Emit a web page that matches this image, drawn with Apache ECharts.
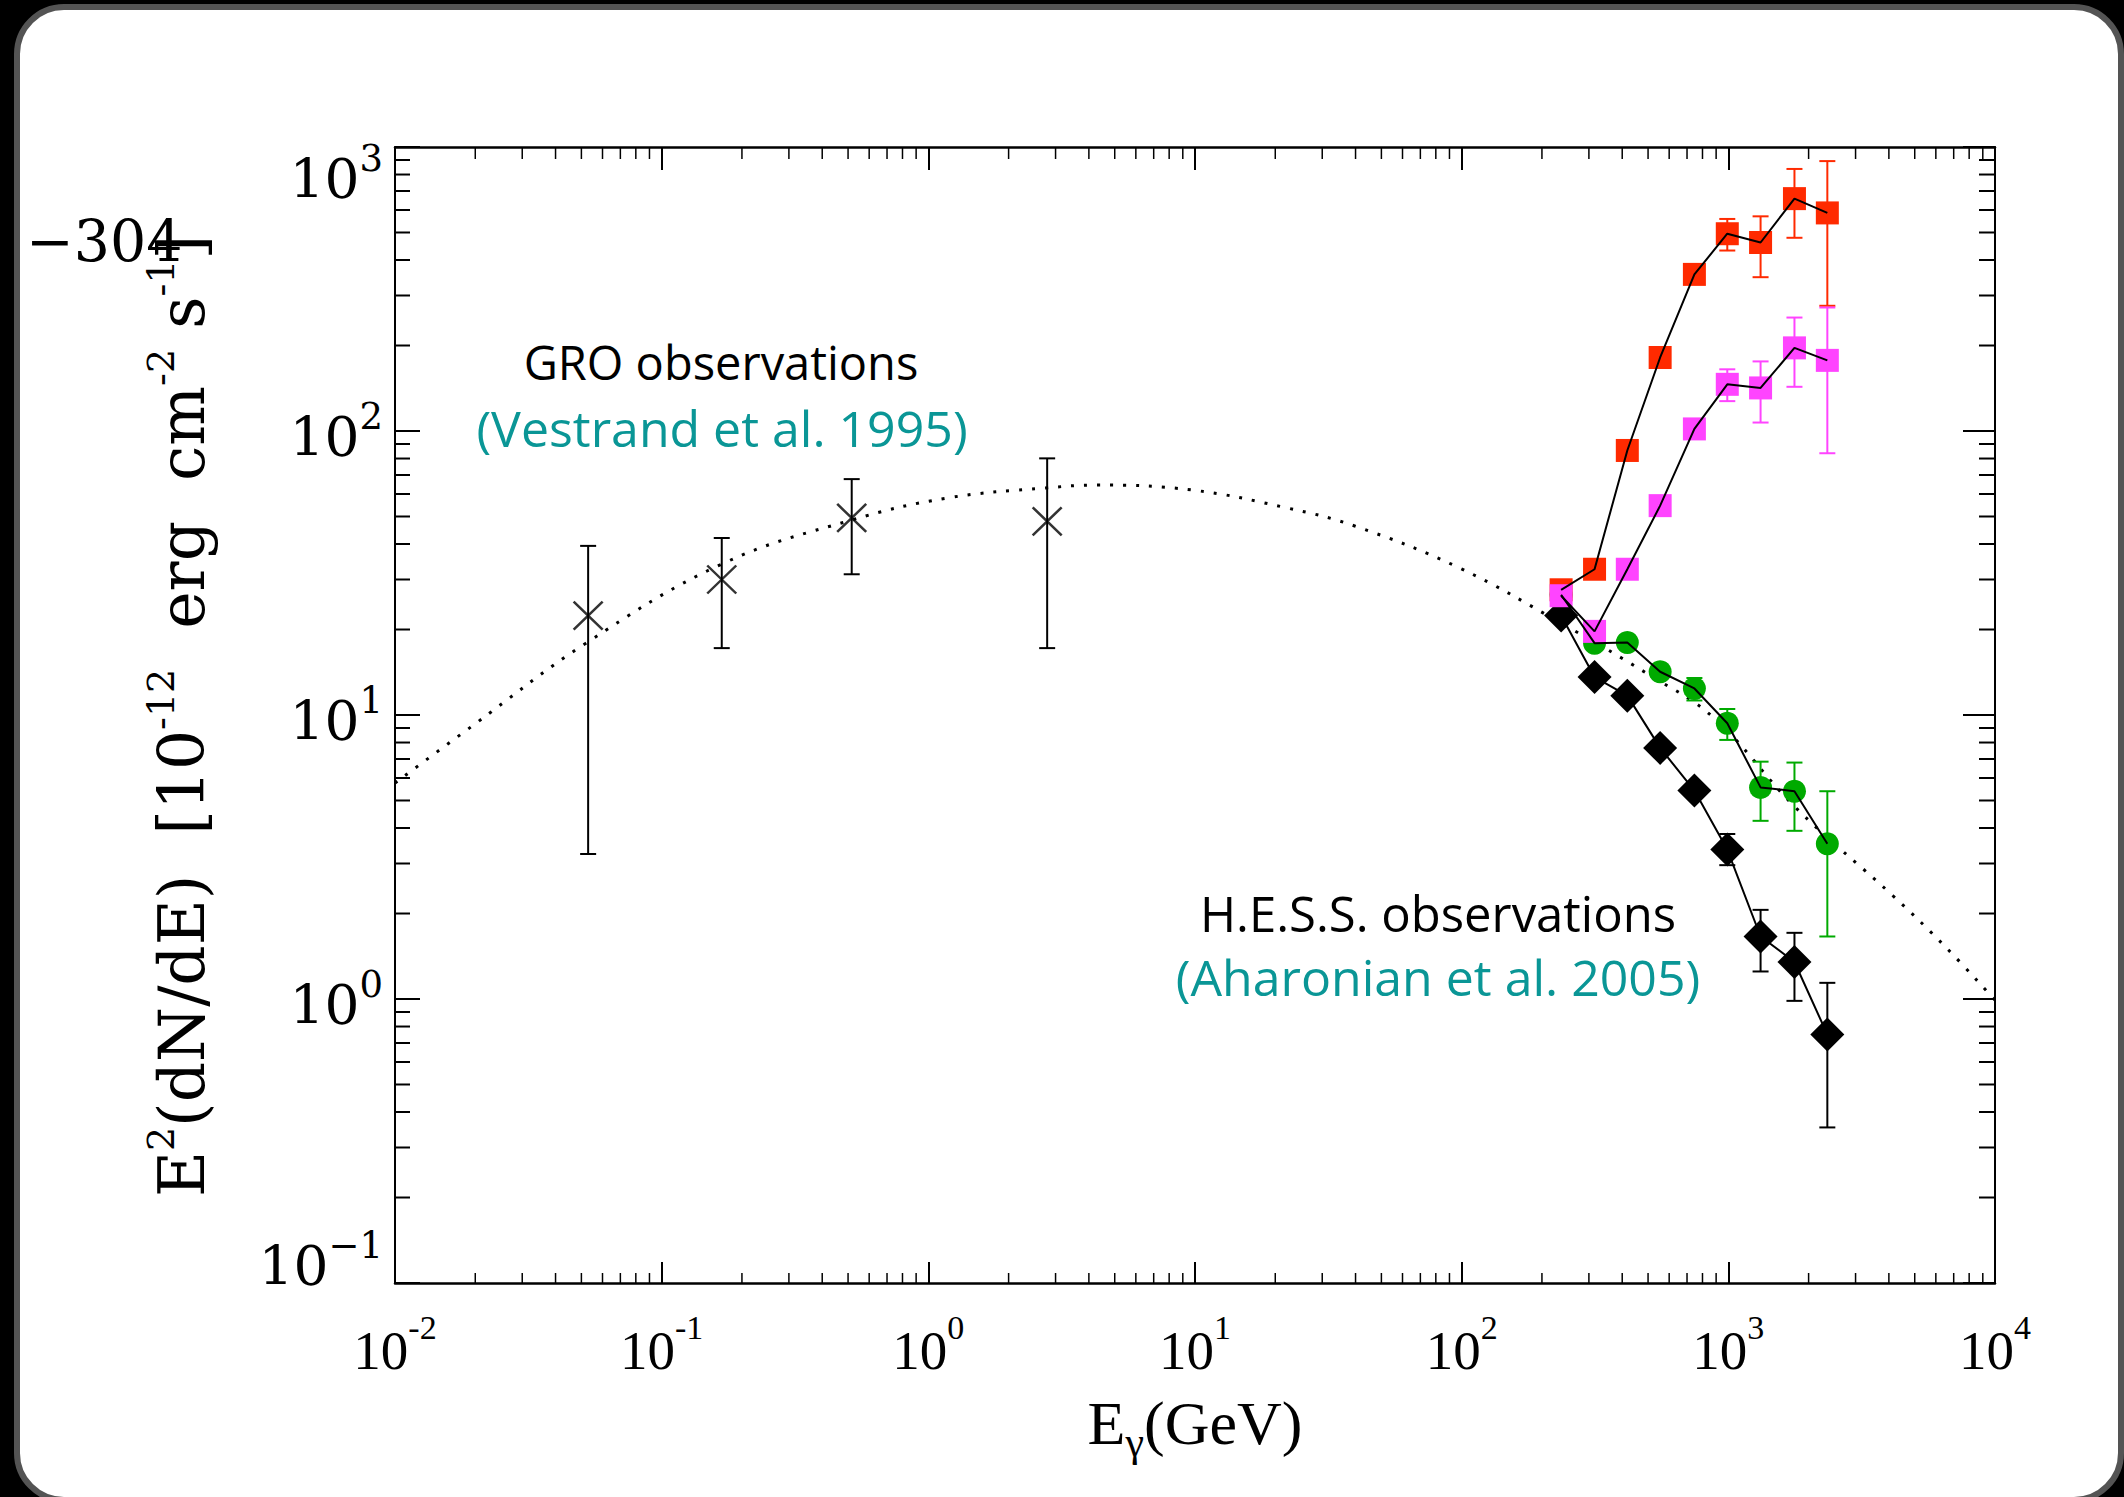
<!DOCTYPE html>
<html>
<head>
<meta charset="utf-8">
<script src="https://cdn.jsdelivr.net/npm/echarts@6/dist/echarts.min.js"></script>
<style>
  html, body { margin: 0; padding: 0; background: #000; }
  #chart { width: 2124px; height: 1497px; }
</style>
</head>
<body>
<div id="chart"></div>
<script>
// Gamma-ray spectrum: GRO (EGRET) points, H.E.S.S. points and a model curve, log-log.

// ---- axis ticks ----
const xTickValues = [0.01, 0.1, 1, 10, 100, 1000, 10000];
const xTickLabels = ['10^-2', '10^-1', '10^0', '10^1', '10^2', '10^3', '10^4'];
const yTickValues = [0.1, 1, 10, 100, 1000];
const yTickLabels = ['10^\u22121', '10^0', '10^1', '10^2', '10^3'];
const minorMultipliers = [2, 3, 4, 5, 6, 7, 8, 9];

// ---- GRO observations (Vestrand et al. 1995) ----
const groEnergy = [0.053, 0.168, 0.516, 2.79];
const groFlux   = [22.4, 30.0, 49.4, 48.1];
const groLow    = [3.24, 17.2, 31.3, 17.2];
const groHigh   = [39.4, 42.0, 67.7, 80.1];

// ---- H.E.S.S. observations (Aharonian et al. 2005) ----
const hessEnergy = [236, 315, 418, 555, 746, 991, 1321, 1770, 2351];

const hessRed     = [27.6, 32.6, 85.4, 181.5, 356, 495, 461, 658, 586];
const hessRedLow  = [null, null, null, null, null, 432, 348, 479, 276];
const hessRedHigh = [null, null, null, null, null, 558, 570, 837, 892];

const hessMagenta     = [26.3, 19.7, 32.6, 54.6, 101.7, 146, 141.8, 196.2, 177.3];
const hessMagentaLow  = [null, null, null, null, null, 127.4, 107.1, 143.1, 83.5];
const hessMagentaHigh = [null, null, null, null, null, 164.9, 175.8, 250.9, 272.2];

const hessGreen     = [26.5, 17.9, 18.0, 14.2, 12.4, 9.35, 5.56, 5.39, 3.52];
const hessGreenLow  = [null, null, null, null, 11.25, 8.17, 4.24, 3.91, 1.66];
const hessGreenHigh = [null, null, null, null, 13.5, 10.5, 6.85, 6.80, 5.39];

const hessBlack     = [22.4, 13.6, 11.7, 7.66, 5.42, 3.36, 1.66, 1.35, 0.75];
const hessBlackLow  = [null, null, null, null, null, 2.96, 1.25, 0.985, 0.353];
const hessBlackHigh = [null, null, null, null, null, 3.81, 2.06, 1.71, 1.14];

// ---- model curve (dotted) ----
const curveEnergy = [0.01, 0.0197, 0.052, 0.168, 0.516, 1.18, 2.75, 4.28, 9.71, 22.1, 39.7, 98.4, 235, 508, 883, 1792, 4140, 6546, 10000];
const curveFlux   = [5.76, 9.22, 17.9, 34.0, 48.6, 58.1, 63.0, 64.5, 62.0, 53.6, 46.3, 32.9, 21.1, 13.8, 9.76, 4.71, 2.31, 1.52, 0.99];

const RED = '#ff2a00', MAGENTA = '#ff44ff', GREEN = '#00aa00', BLACK = '#000000', TEAL = '#0a9696';

const pairs = (xs, ys) => xs.map((x, i) => [x, ys[i]]);

function splitPow(label) {
  const parts = label.split('^');
  return { b: parts[0], e: parts[1] };
}
function tickIndex(values, v) {
  return values.findIndex(t => Math.abs(Math.log10(t) - Math.log10(v)) < 1e-6);
}

function errorBars(energy, low, high, color, z) {
  const data = [];
  energy.forEach((e, i) => { if (low[i] != null) data.push([e, low[i], high[i]]); });
  return {
    type: 'custom', z, data, clip: false, silent: true,
    encode: { x: 0, y: [1, 2] },
    renderItem(params, api) {
      const e = api.value(0);
      const lo = api.coord([e, api.value(1)]);
      const hi = api.coord([e, api.value(2)]);
      const half = 8;
      const st = { stroke: color, lineWidth: 2 };
      return {
        type: 'group', children: [
          { type: 'line', shape: { x1: lo[0], y1: lo[1], x2: hi[0], y2: hi[1] }, style: st },
          { type: 'line', shape: { x1: lo[0] - half, y1: lo[1], x2: lo[0] + half, y2: lo[1] }, style: st },
          { type: 'line', shape: { x1: hi[0] - half, y1: hi[1], x2: hi[0] + half, y2: hi[1] }, style: st }
        ]
      };
    }
  };
}

function markers(energy, values, symbol, size, color, z, extra) {
  return Object.assign({
    type: 'scatter', z, silent: true, symbol, symbolSize: size,
    data: pairs(energy, values),
    itemStyle: { color, opacity: 1 }
  }, extra || {});
}

function joinLine(energy, values, z) {
  return {
    type: 'line', z, silent: true, symbol: 'none', showSymbol: false,
    data: pairs(energy, values),
    lineStyle: { color: BLACK, width: 2 }
  };
}

// minor tick marks on all four sides
const xMinor = [];
for (let k = -2; k < 4; k++) minorMultipliers.forEach(m => xMinor.push([m * Math.pow(10, k), 1]));
const yMinor = [];
for (let k = -1; k < 3; k++) minorMultipliers.forEach(m => yMinor.push([1, m * Math.pow(10, k)]));

const xMinorSeries = {
  type: 'custom', z: 3, silent: true, clip: false, data: xMinor,
  encode: { x: 0, y: 1 },
  renderItem(params, api) {
    const v = api.value(0);
    const b = api.coord([v, 0.1]);
    const t = api.coord([v, 1000]);
    const st = { stroke: '#000', lineWidth: 1.5 };
    return { type: 'group', children: [
      { type: 'line', shape: { x1: b[0], y1: b[1], x2: b[0], y2: b[1] - 10 }, style: st },
      { type: 'line', shape: { x1: t[0], y1: t[1], x2: t[0], y2: t[1] + 12 }, style: st }
    ] };
  }
};
const yMinorSeries = {
  type: 'custom', z: 3, silent: true, clip: false, data: yMinor,
  encode: { x: 0, y: 1 },
  renderItem(params, api) {
    const v = api.value(1);
    const l = api.coord([0.01, v]);
    const r = api.coord([10000, v]);
    const st = { stroke: '#000', lineWidth: 2 };
    return { type: 'group', children: [
      { type: 'line', shape: { x1: l[0], y1: l[1], x2: l[0] + 15, y2: l[1] }, style: st },
      { type: 'line', shape: { x1: r[0], y1: r[1], x2: r[0] - 16, y2: r[1] }, style: st }
    ] };
  }
};

const xLabelRich = {
  b: { fontFamily: 'Liberation Serif', fontSize: 55, lineHeight: 80, color: '#000' },
  s: { fontFamily: 'Liberation Serif', fontSize: 34, verticalAlign: 'top', color: '#000' }
};
const Y_FONT = 'DejaVu Serif';
const yLabelRich = {
  b: { fontFamily: Y_FONT, fontSize: 55, lineHeight: 78, color: '#000' },
  s: { fontFamily: Y_FONT, fontSize: 37, verticalAlign: 'top', color: '#000' },
  // blank spacer lines that nudge the end labels inward
  g12: { fontSize: 4, lineHeight: 12 },
  g64: { fontSize: 4, lineHeight: 64 },
  g34: { fontSize: 4, lineHeight: 34 }
};

const axisCommon = {
  type: 'log', logBase: 10,
  splitLine: { show: false },
  minorTick: { show: false },
  axisLine: { show: true, onZero: false, lineStyle: { color: '#000', width: 2.5 } }
};

const chart = echarts.init(document.getElementById('chart'), null, { renderer: 'svg', width: 2124, height: 1497 });

chart.setOption({
  animation: false,
  backgroundColor: '#000',
  grid: { left: 395, top: 147, width: 1600, height: 1136, containLabel: false },
  xAxis: [
    Object.assign({}, axisCommon, {
      min: 0.01, max: 10000, position: 'bottom',
      axisTick: { show: true, inside: true, length: 21, lineStyle: { color: '#000', width: 2 } },
      axisLabel: {
        margin: 27, color: '#000',
        formatter: v => {
          const i = tickIndex(xTickValues, v);
          if (i < 0) return '';
          const p = splitPow(xTickLabels[i]);
          return '{b|' + p.b + '}{s|' + p.e + '}';
        },
        rich: xLabelRich
      },
      name: '{e|E}{g|\u03b3}{e|(GeV)}',
      nameLocation: 'middle', nameGap: 100,
      nameTextStyle: {
        rich: {
          e: { fontFamily: 'Liberation Serif', fontSize: 62, lineHeight: 80, color: '#000' },
          g: { fontFamily: 'Liberation Serif', fontSize: 42, verticalAlign: 'bottom', color: '#000' }
        }
      }
    }),
    Object.assign({}, axisCommon, {
      min: 0.01, max: 10000, position: 'top',
      axisTick: { show: true, inside: true, length: 23, lineStyle: { color: '#000', width: 2 } },
      axisLabel: { show: false }
    })
  ],
  yAxis: [
    Object.assign({}, axisCommon, {
      min: 0.1, max: 1000, position: 'left',
      axisLine: { show: true, onZero: false, lineStyle: { color: '#000', width: 2 } },
      axisTick: { show: true, inside: true, length: 25, lineStyle: { color: '#000', width: 2 } },
      axisLabel: {
        margin: 12, color: '#000',
        formatter: v => {
          const i = tickIndex(yTickValues, v);
          if (i < 0) return '';
          const p = splitPow(yTickLabels[i]);
          const main = '{b|' + p.b + '}{s|' + p.e + '}';
          if (i === yTickValues.length - 1) return '{g64| }\n' + main;
          if (i === 0) return main + '\n{g34| }';
          return '{g12| }\n' + main;
        },
        rich: yLabelRich
      }
    }),
    Object.assign({}, axisCommon, {
      min: 0.1, max: 1000, position: 'right',
      axisLine: { show: true, onZero: false, lineStyle: { color: '#000', width: 2 } },
      axisTick: { show: true, inside: true, length: 32, lineStyle: { color: '#000', width: 2 } },
      axisLabel: { show: false }
    })
  ],
  graphic: {
    elements: [
      // rounded card behind the plot
      { type: 'rect', z: -100, silent: true,
        shape: { x: 17, y: 7, width: 2104, height: 1493, r: 47 },
        style: { fill: '#ffffff', stroke: '#545454', lineWidth: 6 } },
      // y-axis title, reading bottom to top
      { type: 'text', z: 100, silent: true, x: 182, y: 716, rotation: Math.PI / 2,
        style: {
          text: '{m|E}{s|2}{m|(dN/dE)  [10}{s|-12}{m|  erg  cm}{s|-2}{m| s}{s|-1}{m|]}',
          align: 'center', verticalAlign: 'middle',
          rich: {
            m: { fontFamily: 'DejaVu Serif', fontSize: 63, lineHeight: 80, fill: '#000' },
            s: { fontFamily: 'DejaVu Serif', fontSize: 38, verticalAlign: 'top', fill: '#000' }
          }
        } },
      { type: 'text', z: 100, silent: true, x: 26, y: 241,
        style: { text: '\u2212304', fontFamily: 'DejaVu Serif', fontSize: 57, fill: '#000', align: 'left', verticalAlign: 'middle' } },
      // annotations
      { type: 'text', z: 100, silent: true, x: 721, y: 362,
        style: { text: 'GRO observations', fontFamily: 'Open Sans', fontSize: 47, fill: '#000', align: 'center', verticalAlign: 'middle' } },
      { type: 'text', z: 100, silent: true, x: 722, y: 428,
        style: { text: '(Vestrand et al. 1995)', fontFamily: 'Open Sans', fontSize: 50, fill: TEAL, align: 'center', verticalAlign: 'middle' } },
      { type: 'text', z: 100, silent: true, x: 1438, y: 913,
        style: { text: 'H.E.S.S. observations', fontFamily: 'Open Sans', fontSize: 49, fill: '#000', align: 'center', verticalAlign: 'middle' } },
      { type: 'text', z: 100, silent: true, x: 1438, y: 977,
        style: { text: '(Aharonian et al. 2005)', fontFamily: 'Open Sans', fontSize: 50, fill: TEAL, align: 'center', verticalAlign: 'middle' } }
    ]
  },
  series: [
    xMinorSeries,
    yMinorSeries,
    {
      type: 'line', z: 3, silent: true, symbol: 'none', showSymbol: false, smooth: 0.4,
      data: pairs(curveEnergy, curveFlux),
      lineStyle: { color: BLACK, width: 3, type: [3, 10] }
    },
    // GRO
    errorBars(groEnergy, groLow, groHigh, BLACK, 4),
    markers(groEnergy, groFlux, 'path://M0,0L10,10M10,0L0,10', [29, 28], 'transparent', 5,
      { itemStyle: { color: 'transparent', borderColor: BLACK, borderWidth: 2.5 } }),
    // H.E.S.S.
    errorBars(hessEnergy, hessBlackLow, hessBlackHigh, BLACK, 4),
    errorBars(hessEnergy, hessGreenLow, hessGreenHigh, GREEN, 4),
    errorBars(hessEnergy, hessRedLow, hessRedHigh, RED, 4),
    errorBars(hessEnergy, hessMagentaLow, hessMagentaHigh, MAGENTA, 4),
    markers(hessEnergy, hessBlack, 'diamond', 34, BLACK, 5),
    markers(hessEnergy, hessGreen, 'circle', 23, GREEN, 6),
    markers(hessEnergy, hessRed, 'rect', 23, RED, 7),
    markers(hessEnergy, hessMagenta, 'rect', 23, MAGENTA, 8),
    joinLine(hessEnergy, hessBlack, 9),
    joinLine(hessEnergy, hessGreen, 9),
    joinLine(hessEnergy, hessRed, 9),
    joinLine(hessEnergy, hessMagenta, 9)
  ]
});
</script>
</body>
</html>
